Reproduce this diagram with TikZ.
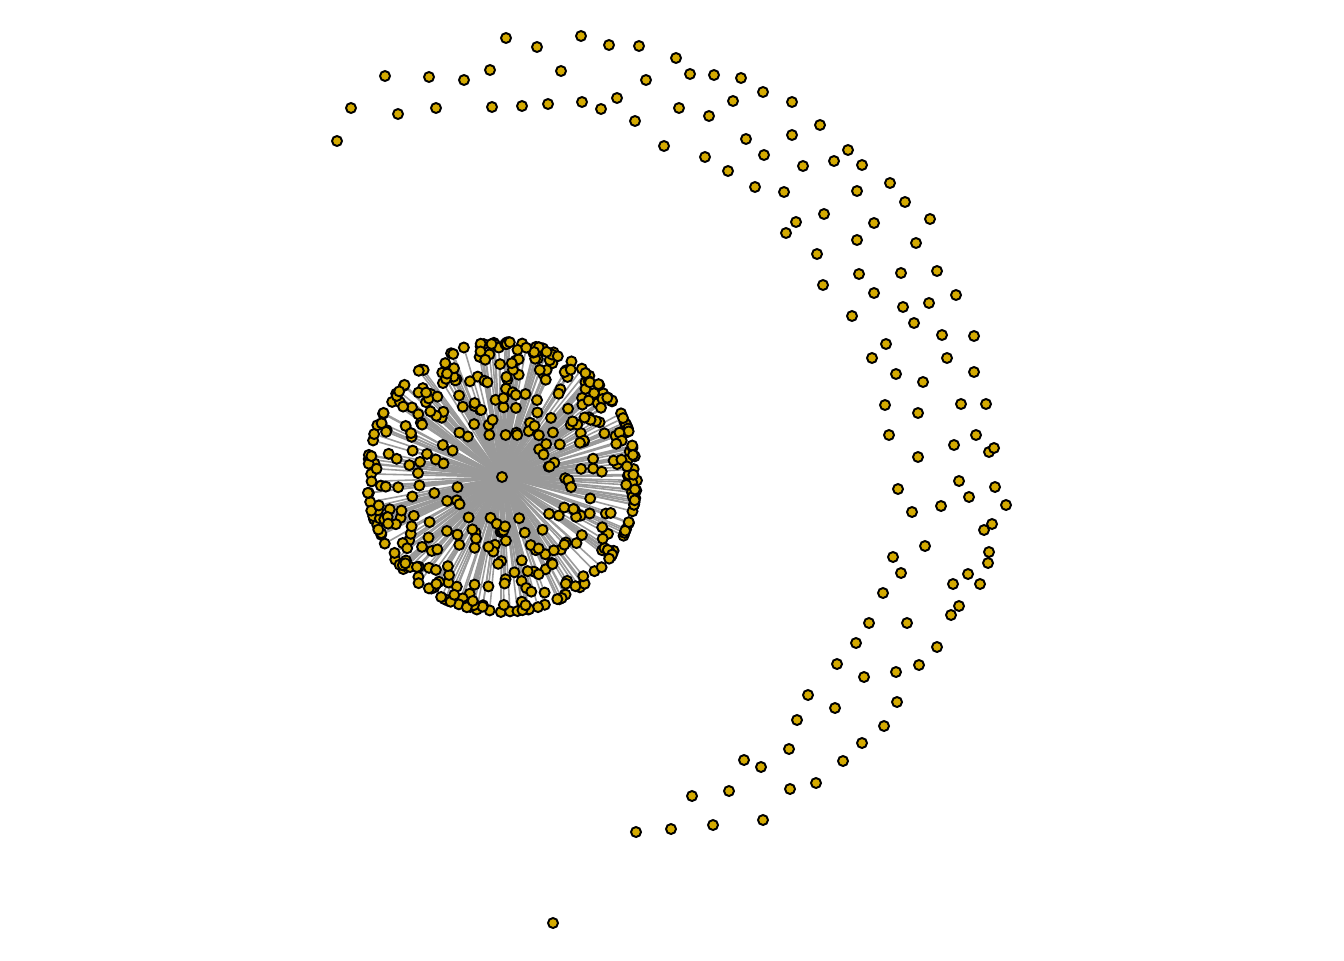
\documentclass[tikz,border=0pt]{standalone}
\usetikzlibrary{backgrounds,calc}

\begin{document}
\begin{tikzpicture}[x=0.02cm, y=-0.02cm]
    \def\leafCount{440}
    \def\rimRadius{135}
    \definecolor{dotColour}{HTML}{D4AA00}
    \definecolor{edgeColour}{HTML}{9A9A9A}
    \tikzset{
        dot/.style={circle, draw=black, fill=dotColour, line width=1.1pt, minimum size=0.2cm, inner sep=0pt},
        edge/.style={draw=edgeColour, line width=0.9pt}
    }

    \useasboundingbox (0,0) rectangle (1344,960);

    % Hub of the star
    \node[dot] (hub) at (502,477) {};

    % Leaves round the hub, mostly on the rim
    \pgfmathsetseed{4711}
    \foreach \i in {1,...,\leafCount} {
        \pgfmathsetmacro{\ang}{360*rnd}
        \pgfmathsetmacro{\rad}{\rimRadius-93*rnd^3}
        \node[dot] (l\i) at ($(hub)+(\ang:\rad)$) {};
    }

    % Spokes, behind the dots
    \begin{pgfonlayer}{background}
        \foreach \i in {1,...,\leafCount}
            \draw[edge] (hub) -- (l\i);
    \end{pgfonlayer}

    % Loose nodes on the outer arc
    \foreach \p [count=\k] in {
        (506,38),(537,47),(581,36),(609,45),(639,46),(676,58),(385,76),(429,77),
        (464,80),(490,70),(561,71),(646,80),(351,108),(398,114),(436,108),(492,107),
        (522,106),(548,104),(582,102),(601,109),(617,98),(635,121),(679,108),(337,141),
        (664,146),(690,74),(714,75),(741,78),(763,92),(792,102),(733,101),(709,116),
        (820,125),(792,135),(746,139),(764,155),(848,150),(705,157),(803,166),(834,161),
        (862,165),(728,171),(755,187),(784,192),(890,183),(857,191),(905,202),(824,214),
        (796,222),(930,219),(786,233),(857,240),(916,243),(817,254),(874,223),(859,274),
        (901,273),(937,271),(823,285),(874,293),(956,295),(929,303),(903,307),(852,316),
        (914,323),(942,335),(974,336),(886,344),(872,358),(947,358),(974,372),(896,374),
        (923,382),(885,405),(961,404),(986,404),(918,413),(889,435),(976,435),(954,445),
        (989,452),(994,448),(918,457),(959,481),(995,487),(898,489),(969,497),(1006,505),
        (941,506),(912,512),(992,524),(984,530),(925,546),(893,557),(989,552),(988,563),
        (901,573),(968,574),(953,584),(980,584),(883,593),(959,606),(951,615),(869,623),
        (907,623),(856,643),(937,647),(837,664),(919,665),(864,677),(896,672),(808,695),
        (835,708),(897,702),(797,720),(884,726),(789,749),(862,743),(744,760),(761,767),
        (843,761),(816,783),(790,789),(692,796),(729,791),(636,832),(671,829),(713,825),
        (763,820),(553,923)}
        \node[dot] (a\k) at \p {};

\end{tikzpicture}
\end{document}
